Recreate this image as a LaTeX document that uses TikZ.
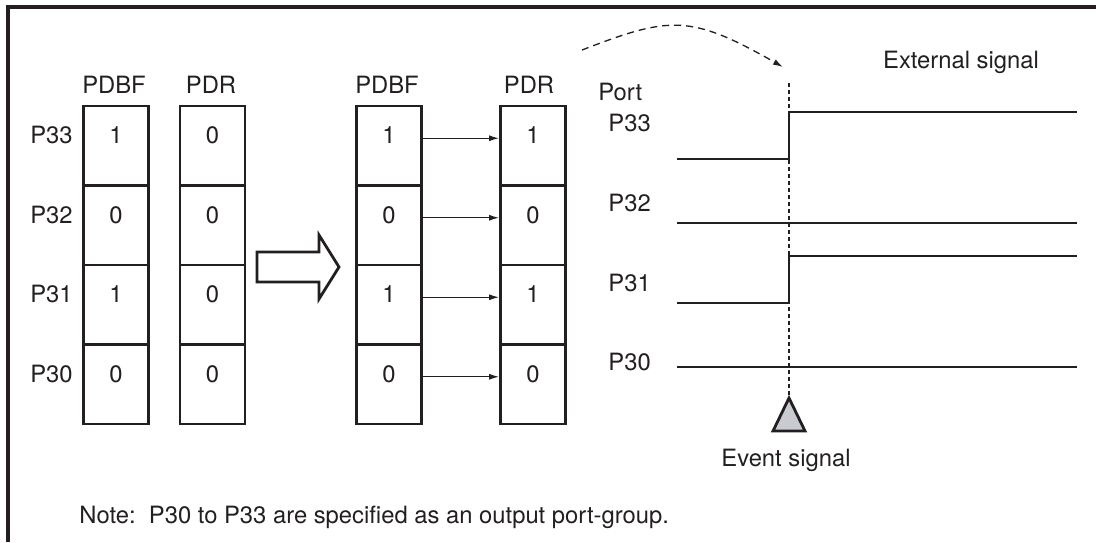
\documentclass[tikz,border=0pt]{standalone}
\usepackage{fontspec}
\setmainfont{TeX Gyre Heros}
\usetikzlibrary{arrows.meta}
\definecolor{ink}{RGB}{35,31,32}
\definecolor{trifill}{RGB}{200,203,208}
\tikzset{
	cell/.style={draw=ink, line width=1.4pt, minimum width=32.5pt, inner sep=0pt, text height=18.75pt, text depth=21pt, text=ink},
	lbl/.style={inner sep=0pt, anchor=base, text=ink},
	sig/.style={ink, line width=1.4pt},
	xfer/.style={ink, line width=0.65pt, -{Latex[length=5pt,width=3pt]}}
}
\begin{document}
\begin{tikzpicture}[x=0.5pt, y=-0.5pt, font=\fontsize{11.9}{14}\selectfont]
	\useasboundingbox (0,0) rectangle (1096,542);
	\draw[ink, line width=1.8pt] (8,542) -- (8,7) -- (1096,7);
	% registers before and after the event
	\foreach \col/\x/\vals in {f1/116/{1,0,1,0}, r1/212.5/{0,0,0,0}, f2/389/{1,0,1,0}, r2/533/{1,0,1,0}} {
		\foreach \v [count=\k] in \vals
			\node[cell] (\col-\k) at (\x, {106+79.5*(\k-0.5)}) {\v};
	}
	\node[lbl] (hf1) at (114,93) {PDBF};
	\node[lbl] (hr1) at (211,93) {PDR};
	\node[lbl] (hf2) at (387,93) {PDBF};
	\node[lbl] (hr2) at (529,93) {PDR};
	\foreach \k/\p in {1/P33, 2/P32, 3/P31, 4/P30}
		\node[lbl, anchor=base east] (row\k) at (73, {143.5+79.5*(\k-1)}) {\p};
	\foreach \k in {1,...,4}
		\draw[xfer] (f2-\k.mid east) -- (r2-\k.mid west);
	\draw[ink, line width=1.4pt, line join=miter] (257,252) -- (319,252) -- (319,235) -- (339,267)
		-- (319,299) -- (319,282) -- (257,282) -- cycle;
	% port signals
	\node[lbl, anchor=base west] (port) at (598,100) {Port};
	\node[lbl, anchor=base west] (s33) at (608,131) {P33};
	\node[lbl, anchor=base west] (s32) at (608,211) {P32};
	\node[lbl, anchor=base west] (s31) at (608,291) {P31};
	\node[lbl, anchor=base west] (s30) at (608,370) {P30};
	\draw[sig] (677,159) -- (789,159) -- (789,112) -- (1077,112);
	\draw[sig] (677,223) -- (1077,223);
	\draw[sig] (677,303) -- (789,303) -- (789,256) -- (1077,256);
	\draw[sig] (677,367) -- (1077,367);
	\node[lbl] (ext) at (961,68) {External signal};
	% event
	\coordinate (evtop) at (789,83);
	\coordinate (ev) at (789,398);
	\draw[ink, line width=0.65pt, dash pattern=on 2pt off 1.5pt] (evtop) -- (ev);
	\draw[ink, line width=1.4pt, fill=trifill, line join=miter] (ev) -- (805,431) -- (773,431) -- cycle;
	\node[lbl] (evlbl) at (786,466) {Event signal};
	\coordinate (cs) at (582,50);
	\coordinate (ce) at (783,67);
	\draw[xfer, dash pattern=on 3.5pt off 2.5pt] (cs) .. controls (670,16) and (690,14) .. (ce);
	\node[lbl, anchor=base west] (note) at (79,523) {Note:\ \ P30 to P33 are specified as an output port-group.};
\end{tikzpicture}
\end{document}
